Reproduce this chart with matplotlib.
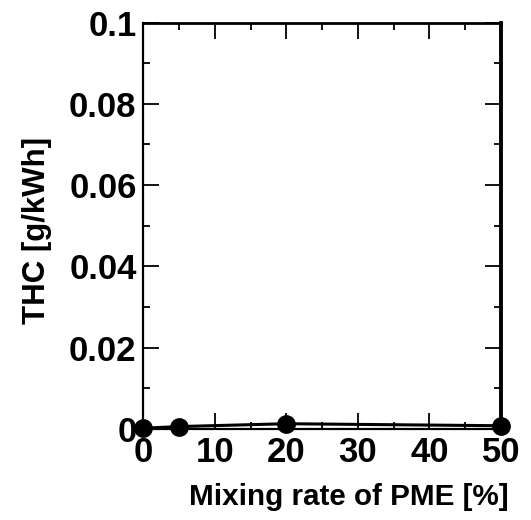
import matplotlib
matplotlib.use("Agg")
import matplotlib.pyplot as plt
from matplotlib.ticker import MultipleLocator

plt.rcParams['font.family'] = ['Liberation Sans', 'DejaVu Sans']
plt.rcParams['font.weight'] = 'bold'

mixing_rate = [0, 5, 20, 50]
thc = [0.0002, 0.0006, 0.0013, 0.0008]
y_ticks = [0, 0.02, 0.04, 0.06, 0.08, 0.1]
y_tick_labels = ["0", "0.02", "0.04", "0.06", "0.08", "0.1"]
x_ticks = [0, 10, 20, 30, 40, 50]
x_tick_labels = ["0", "10", "20", "30", "40", "50"]

fig = plt.figure(figsize=(5.31, 5.20), dpi=100)
ax = fig.add_axes([0.2702, 0.175, 0.9435 - 0.2702, 0.9567 - 0.175])

ax.plot(mixing_rate, thc, color='black', lw=2.2, marker='o', ms=12.5, clip_on=False, zorder=5)

ax.set_xlim(0, 50)
ax.set_ylim(0, 0.1)
ax.set_xticks(x_ticks)
ax.set_xticklabels(x_tick_labels)
ax.set_yticks(y_ticks)
ax.set_yticklabels(y_tick_labels)
ax.xaxis.set_minor_locator(MultipleLocator(5))
ax.yaxis.set_minor_locator(MultipleLocator(0.01))

ax.tick_params(which='both', direction='in', top=True, right=True, width=1.3, colors='black')
ax.tick_params(which='major', length=11.5, labelsize=25)
ax.tick_params(which='minor', length=5)
ax.tick_params(axis='x', which='major', pad=5)
ax.tick_params(axis='y', which='major', pad=5)

ax.spines['left'].set_linewidth(1.6)
ax.spines['bottom'].set_linewidth(1.6)
ax.spines['top'].set_linewidth(2.0)
ax.spines['right'].set_linewidth(2.8)

ax.set_xlabel("Mixing rate of PME [%]", fontsize=21.3, fontweight='bold')
ax.set_ylabel("THC [g/kWh]", fontsize=22.5, fontweight='bold')
ax.xaxis.label.set_va('center')
ax.xaxis.set_label_coords(0.573, -0.167)
ax.yaxis.label.set_va('center')
ax.yaxis.label.set_ha('center')
ax.yaxis.set_label_coords(-0.298, 0.4895)

fig.savefig("out.png", dpi=100)
